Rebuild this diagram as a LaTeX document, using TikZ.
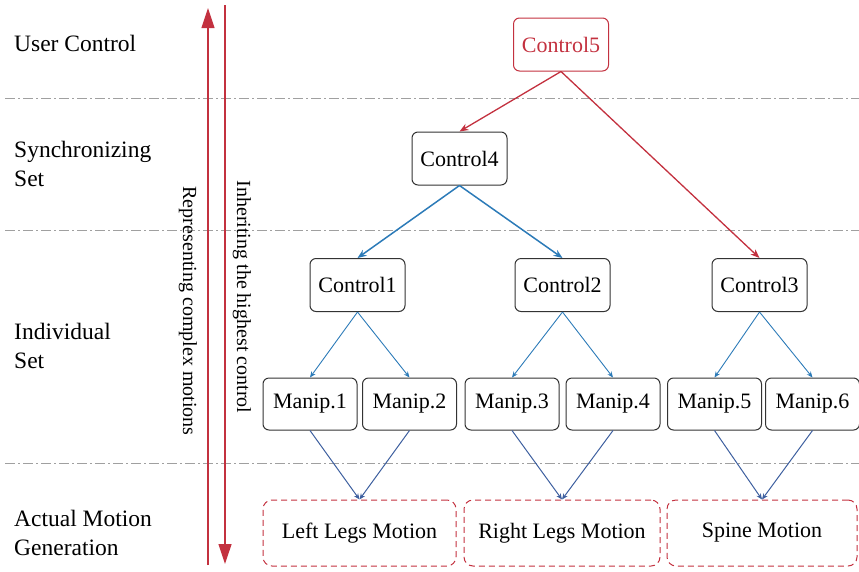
\documentclass[tikz,border=0pt]{standalone}
\usepackage{fontspec}
\setmainfont{Liberation Serif}
\usetikzlibrary{arrows.meta}
\definecolor{myred}{HTML}{C3313F}
\definecolor{myblue}{HTML}{2C7BB8}
\definecolor{mydblue}{HTML}{3D5F9F}
\definecolor{mygray}{HTML}{A0A0A0}
\definecolor{boxgray}{HTML}{333333}
\tikzset{
  txt/.style={font=\fontsize{22}{26}\selectfont},
  ctrlbox/.style={txt, draw=boxgray, line width=1pt, rounded corners=6pt, minimum width=95pt, minimum height=53pt, inner sep=0pt},
  manipbox/.style={txt, draw=boxgray, line width=1pt, rounded corners=6pt, minimum width=94pt, minimum height=52pt, inner sep=0pt},
  topbox/.style={ctrlbox, draw=myred, text=myred},
  motionbox/.style={txt, draw=myred, line width=1pt, dash pattern=on 6pt off 4pt, rounded corners=9pt, minimum height=66pt, inner sep=0pt},
  seprule/.style={draw=mygray, line width=0.9pt, dash pattern=on 10pt off 3pt on 2pt off 3pt},
  redarr/.style={draw=myred, line width=1.3pt, -{Stealth[length=9pt,width=7pt]}},
  bluearr/.style={draw=myblue, line width=1.5pt, -{Stealth[length=9pt,width=7pt]}},
  thinarr/.style={draw=myblue, line width=0.9pt, -{Stealth[length=6pt,width=5pt]}},
  downarr/.style={draw=mydblue, line width=1pt, -{Stealth[length=6pt,width=5pt]}},
  bigarr/.style={draw=myred, line width=1.2pt, -{Triangle[length=20pt,width=13pt]}},
  lbl/.style={font=\fontsize{23.5}{29}\selectfont, anchor=west, align=left, inner sep=0pt},
  rot/.style={font=\fontsize{20}{24}\selectfont, rotate=-90},
}
\begin{document}
\begin{tikzpicture}[x=1pt,y=-1pt]
\useasboundingbox (0,0) rectangle (859,571);
% separators
\coordinate (s1a) at (5,98); \coordinate (s1b) at (859,98);
\coordinate (s2a) at (5,230); \coordinate (s2b) at (859,230);
\coordinate (s3a) at (5,463); \coordinate (s3b) at (859,463);
\draw[seprule] (s1a) -- (s1b);
\draw[seprule] (s2a) -- (s2b);
\draw[seprule] (s3a) -- (s3b);
% left labels
\node[lbl] (l1) at (14,43) {User Control};
\node[lbl] (l2) at (14,164) {Synchronizing\\Set};
\node[lbl] (l3) at (14,346) {Individual\\Set};
\node[lbl] (l4) at (14,533) {Actual Motion\\Generation};
% vertical arrows
\coordinate (u1) at (208,565); \coordinate (u2) at (208,8);
\coordinate (d1) at (225,5); \coordinate (d2) at (225,564);
\draw[bigarr] (u1) -- (u2);
\draw[bigarr] (d1) -- (d2);
\node[rot] (rep) at (188,311) {Representing complex motions};
\node[rot] (inh) at (242,297) {Inheriting the highest control};
% nodes
\node[topbox] (c5) at (561,44.5) {Control5};
\node[ctrlbox] (c4) at (459.5,158.5) {Control4};
\node[ctrlbox] (c1) at (357.5,285) {Control1};
\node[ctrlbox] (c2) at (562.5,285) {Control2};
\node[ctrlbox] (c3) at (759.5,285) {Control3};
\node[manipbox] (m1) at (310,404) {Manip.1};
\node[manipbox] (m2) at (409.5,404) {Manip.2};
\node[manipbox] (m3) at (512,404) {Manip.3};
\node[manipbox] (m4) at (613,404) {Manip.4};
\node[manipbox] (m5) at (714.5,404) {Manip.5};
\node[manipbox] (m6) at (812.5,404) {Manip.6};
\node[motionbox, minimum width=193pt] (left) at (359.5,533) {Left Legs Motion};
\node[motionbox, minimum width=196pt] (right) at (562,533) {Right Legs Motion};
\node[motionbox, minimum width=190pt] (spine) at (762,533) {Spine Motion};
% connectors
\draw[redarr] (c5.south) -- (c4.north);
\draw[redarr] (c5.south) -- (c3.north);
\draw[bluearr] (c4.south) -- (c1.north);
\draw[bluearr] (c4.south) -- (c2.north);
\draw[thinarr] (c1.south) -- (m1.north);
\draw[thinarr] (c1.south) -- (m2.north);
\draw[thinarr] (c2.south) -- (m3.north);
\draw[thinarr] (c2.south) -- (m4.north);
\draw[thinarr] (c3.south) -- (m5.north);
\draw[thinarr] (c3.south) -- (m6.north);
\draw[downarr] (m1.south) -- (left.north);
\draw[downarr] (m2.south) -- (left.north);
\draw[downarr] (m3.south) -- (right.north);
\draw[downarr] (m4.south) -- (right.north);
\draw[downarr] (m5.south) -- (spine.north);
\draw[downarr] (m6.south) -- (spine.north);
\end{tikzpicture}
\end{document}
